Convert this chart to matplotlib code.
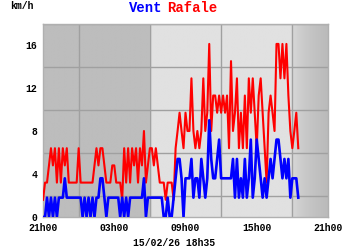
import matplotlib.pyplot as plt
import numpy as np

# mesures toutes les 10 min depuis 21h00 (km/h)
rafale = [1.6, 3.2, 3.2, 4.8, 6.4, 4.8, 6.4, 3.2, 6.4, 3.2,
          6.4, 4.8, 6.4, 3.2, 3.2, 3.2, 3.2, 3.2, 6.4, 3.2,
          3.2, 3.2, 3.2, 3.2, 3.2, 3.2, 4.8, 6.4, 4.8, 6.4,
          6.4, 4.8, 3.2, 3.2, 3.2, 4.8, 4.8, 3.2, 3.2, 3.2,
          1.6, 6.4, 3.2, 6.4, 3.2, 6.4, 4.8, 6.4, 3.2, 6.4,
          4.8, 8.0, 3.2, 4.8, 6.4, 6.4, 4.8, 6.4, 4.8, 3.2,
          3.2, 3.2, 1.6, 3.2, 3.2, 3.2, 1.6, 6.4, 8.0, 9.7,
          8.0, 6.4, 9.7, 8.0, 8.0, 12.9, 8.0, 6.4, 8.0, 6.4,
          8.0, 12.9, 8.0, 9.7, 16.1, 8.0, 11.3, 11.3, 9.7, 11.3,
          9.7, 11.3, 9.7, 11.3, 6.4, 14.5, 8.0, 9.7, 12.9, 6.4,
          9.7, 6.4, 11.3, 6.4, 12.9, 9.7, 12.9, 9.7, 6.4, 11.3,
          12.9, 9.7, 6.4, 3.2, 9.7, 11.3, 9.7, 8.0, 16.1, 16.1,
          12.9, 16.1, 12.9, 16.1, 11.3, 8.0, 6.4, 8.0, 9.7, 6.4]
vent = [0, 0, 1.8, 0, 1.8, 0, 1.8, 0, 1.8, 1.8,
        1.8, 3.6, 1.8, 1.8, 1.8, 1.8, 1.8, 1.8, 1.8, 1.8,
        0, 1.8, 0, 1.8, 0, 1.8, 0, 1.8, 1.8, 3.6,
        3.6, 1.8, 0, 1.8, 1.8, 1.8, 1.8, 1.8, 1.8, 0,
        1.8, 0, 1.8, 0, 1.8, 1.8, 1.8, 1.8, 1.8, 1.8,
        1.8, 3.6, 0, 1.8, 1.8, 1.8, 1.8, 1.8, 1.8, 1.8,
        1.8, 0, 0, 1.8, 0, 0, 1.8, 3.6, 5.4, 5.4,
        3.6, 0, 3.6, 3.6, 3.6, 5.4, 1.8, 3.6, 3.6, 1.8,
        5.4, 3.6, 1.8, 3.6, 9.0, 5.4, 3.6, 3.6, 5.4, 7.2,
        3.6, 3.6, 3.6, 3.6, 3.6, 3.6, 5.4, 1.8, 5.4, 1.8,
        3.6, 1.8, 5.4, 1.8, 3.6, 7.2, 1.8, 3.6, 7.2, 5.4,
        3.6, 1.8, 3.6, 1.8, 3.6, 5.4, 3.6, 5.4, 7.2, 7.2,
        5.4, 3.6, 5.4, 3.6, 5.4, 1.8, 3.6, 3.6, 3.6, 1.8]
heures = [0, 6, 12, 18, 24]
heures_lbl = ['21h00', '03h00', '09h00', '15h00', '21h00']
vitesses = [0, 4, 8, 12, 16]
horodatage = '15/02/26 18h35'

t = np.arange(len(vent)) / 6.0
mono = 'Liberation Mono'

fig = plt.figure(figsize=(3.5, 2.5), dpi=100)
ax = fig.add_axes([0.123, 0.132, 0.814, 0.774])

# fond nuit / jour
xs = np.linspace(0, 24, 960)
dark, light = 0.74, 0.88
shade = np.full_like(xs, light)
shade[xs < 8.9] = dark
m = (xs >= 8.9) & (xs < 9.2)
shade[m] = dark + (light - dark) * (xs[m] - 8.9) / 0.3
m = xs >= 20.9
shade[m] = light - (light - dark + 0.01) * np.sqrt((xs[m] - 20.9) / 3.1)
ax.imshow(shade[None, :], extent=(0, 24, 0, 18), aspect='auto',
          cmap='gray', vmin=0, vmax=1, zorder=0, interpolation='bilinear')

ax.set_xlim(0, 24)
ax.set_ylim(0, 18)
ax.set_xticks(np.arange(0, 25, 3), minor=True)
ax.set_yticks(np.arange(0, 19, 2), minor=True)
ax.grid(which='minor', color='#a0a0a0', lw=1.0, zorder=1)
ax.set_xticks(heures)
ax.set_xticklabels(heures_lbl)
ax.set_yticks(vitesses)
ax.tick_params(which='both', length=0)
ax.tick_params(axis='x', pad=4)
ax.tick_params(axis='y', pad=4)
for lab in ax.get_xticklabels() + ax.get_yticklabels():
    lab.set_fontfamily(mono)
    lab.set_fontweight('bold')
    lab.set_fontsize(7)
for s in ax.spines.values():
    s.set_color('#b0b0b0')
    s.set_linewidth(1.0)

ax.plot(t, rafale, color='#ff0000', lw=1.5, zorder=3)
ax.plot(t, vent, color='#0000ff', lw=1.9, zorder=4)

fig.text(129 / 350, 1 - 8 / 250, 'Vent', color='#0000ff', fontsize=10,
         fontfamily=mono, fontweight='bold', va='center', ha='left')
fig.text(167 / 350, 1 - 8 / 250, 'Rafale', color='#ff0000', fontsize=10,
         fontfamily=mono, fontweight='bold', va='center', ha='left')
fig.text(10 / 350, 1 - 6 / 250, 'km/h', color='black', fontsize=7,
         fontfamily=mono, fontweight='bold', va='center', ha='left')
fig.text(133 / 350, 1 - 243 / 250, horodatage, color='black', fontsize=7,
         fontfamily=mono, fontweight='bold', va='center', ha='left')

fig.savefig('out.png', dpi=100, facecolor='white')
